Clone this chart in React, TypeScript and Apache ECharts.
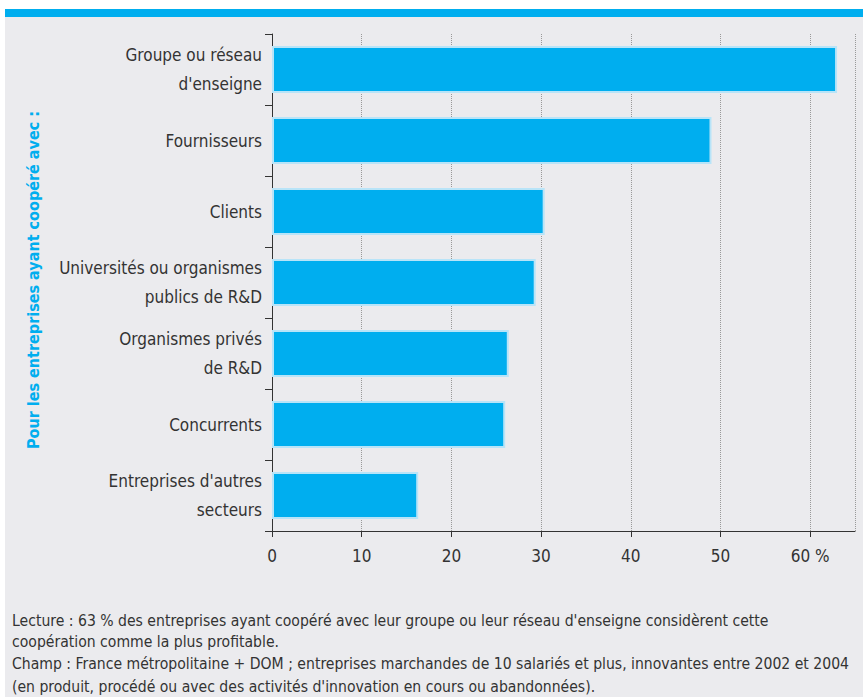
import React, { useEffect, useRef } from "react";
import * as echarts from "echarts";

const categories = [
  "Groupe ou réseau\nd'enseigne",
  "Fournisseurs",
  "Clients",
  "Universités ou organismes\npublics de R&D",
  "Organismes privés\nde R&D",
  "Concurrents",
  "Entreprises d'autres\nsecteurs",
];
const values = [63, 49, 30.4, 29.4, 26.4, 26.0, 16.3];
const xTickLabels: Record<number, string> = { 0: "0", 10: "10", 20: "20", 30: "30", 40: "40", 50: "50", 60: "60 %" };
const yTitle = "Pour les entreprises ayant coopéré avec :";
const footerLines = [
  "Lecture : 63 % des entreprises ayant coopéré avec leur groupe ou leur réseau d'enseigne considèrent cette",
  "coopération comme la plus profitable.",
  "Champ : France métropolitaine + DOM ; entreprises marchandes de 10 salariés et plus, innovantes entre 2002 et 2004",
  "(en produit, procédé ou avec des activités d'innovation en cours ou abandonnées).",
];

const FONT = "'Liberation Sans Narrow', 'DejaVu Sans Condensed', 'Roboto', sans-serif";

export default function App() {
  const ref = useRef<HTMLDivElement>(null);
  useEffect(() => {
    if (!ref.current) return;
    const chart = echarts.init(ref.current, undefined, { renderer: "svg" });
    chart.setOption({
      animation: false,
      backgroundColor: "#ffffff",
      textStyle: { fontFamily: FONT },
      graphic: [
        { type: "rect", z: -10, shape: { x: 5, y: 17, width: 858, height: 680 }, style: { fill: "#ebebee" } },
        { type: "rect", z: -10, shape: { x: 5, y: 9, width: 858, height: 8 }, style: { fill: "#00aeef" } },
        {
          type: "text",
          x: 33,
          y: 280,
          rotation: Math.PI / 2,
          style: {
            text: yTitle,
            fill: "#00aeef",
            font: `bold 16px ${FONT}`,
            align: "center",
            verticalAlign: "middle",
          },
        },
        ...footerLines.map((t, i) => ({
          type: "text",
          x: 12,
          y: [621, 642, 664, 687][i],
          style: {
            text: t,
            fill: "#333333",
            font: `15.6px ${FONT}`,
            align: "left",
            verticalAlign: "middle",
          },
        })),
      ],
      grid: { left: 272, right: 8, top: 34, bottom: 166, containLabel: false },
      xAxis: {
        type: "value",
        min: 0,
        max: 65,
        interval: 10,
        axisLine: { show: true, lineStyle: { color: "#333", width: 1 } },
        axisTick: { show: true, length: 6, lineStyle: { color: "#333" } },
        splitLine: { show: true, lineStyle: { type: "dotted", color: "#999999", width: 1 } },
        axisLabel: {
          color: "#333",
          fontSize: 17,
          fontFamily: FONT,
          margin: 16,
          showMaxLabel: false,
          formatter: (v: number) => xTickLabels[v] ?? "",
        },
      },
      yAxis: {
        type: "category",
        inverse: true,
        data: categories,
        axisLine: { show: true, lineStyle: { color: "#333", width: 1 } },
        axisTick: { show: true, length: 7, lineStyle: { color: "#333" } },
        axisLabel: {
          color: "#333",
          fontSize: 17,
          fontFamily: FONT,
          lineHeight: 29,
          margin: 10,
          align: "right",
        },
      },
      series: [
        {
          type: "bar",
          data: values,
          barWidth: 47,
          itemStyle: { color: "#00aeef", borderColor: "#b8e4f8", borderWidth: 2 },
        },
      ],
    });
    return () => chart.dispose();
  }, []);
  return (
    <div
      ref={ref}
      style={{ position: "fixed", left: 0, top: 0, width: 863, height: 697 }}
    />
  );
}
